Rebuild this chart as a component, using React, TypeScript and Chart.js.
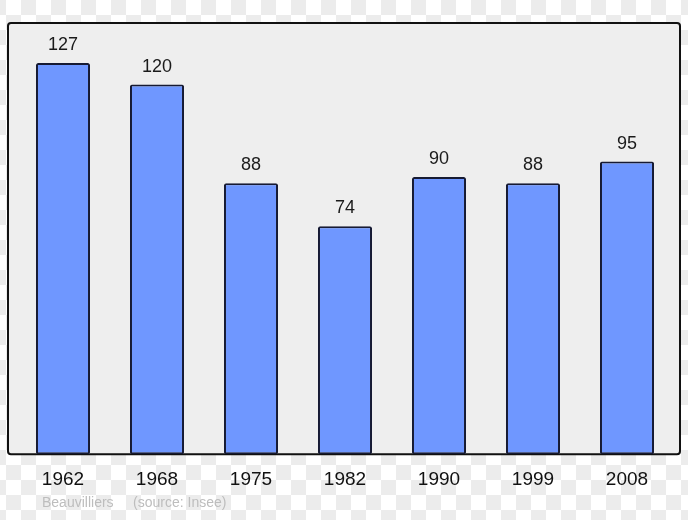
import React, { useEffect, useRef } from "react";
import { Chart, registerables } from "chart.js";

Chart.register(...registerables);

const years = ["1962", "1968", "1975", "1982", "1990", "1999", "2008"];
const population = [127, 120, 88, 74, 90, 88, 95];
const footerPlace = "Beauvilliers";
const footerSource = "(source: Insee)";

const FONT = "'Liberation Sans', Arial, sans-serif";

const boxPlugin = {
  id: "boxPlugin",
  beforeDraw(chart: any) {
    const { ctx, chartArea } = chart;
    const l = chartArea.left - 8;
    const r = chartArea.right + 6;
    const t = chartArea.top;
    const b = chartArea.bottom;
    ctx.save();
    ctx.beginPath();
    ctx.roundRect(l, t, r - l, b - t, 3);
    ctx.fillStyle = "#eeeeee";
    ctx.fill();
    ctx.lineWidth = 2;
    ctx.strokeStyle = "#111111";
    ctx.stroke();
    ctx.restore();
  },
};

const labelPlugin = {
  id: "labelPlugin",
  afterDatasetsDraw(chart: any) {
    const { ctx } = chart;
    const meta = chart.getDatasetMeta(0);
    const data = chart.data.datasets[0].data;
    ctx.save();
    ctx.font = `18px ${FONT}`;
    ctx.fillStyle = "#1a1a1a";
    ctx.textAlign = "center";
    ctx.textBaseline = "alphabetic";
    meta.data.forEach((el: any, i: number) => {
      ctx.fillText(String(data[i]), el.x, el.y - 13);
    });
    ctx.restore();
  },
};

export default function App() {
  const ref = useRef<HTMLCanvasElement>(null);
  useEffect(() => {
    if (!ref.current) return;
    const chart = new Chart(ref.current, {
      type: "bar",
      data: {
        labels: years,
        datasets: [
          {
            data: population,
            backgroundColor: "#6f97ff",
            borderColor: "#161a33",
            borderWidth: 2,
            borderRadius: 2,
            borderSkipped: false,
            categoryPercentage: 1,
            barPercentage: 0.575,
          },
        ],
      },
      options: {
        responsive: false,
        animation: false,
        events: [],
        layout: { padding: { left: 16, right: 14, top: 23, bottom: 15 } },
        plugins: { legend: { display: false }, tooltip: { enabled: false } },
        scales: {
          x: {
            grid: { display: false, drawTicks: false },
            border: { display: false },
            ticks: {
              color: "#111111",
              font: { family: FONT, size: 19 },
              padding: 14,
            },
          },
          y: {
            display: false,
            min: 0,
            max: 140,
          },
        },
      },
      plugins: [boxPlugin, labelPlugin],
    });
    return () => chart.destroy();
  }, []);

  return (
    <div
      style={{
        position: "fixed",
        left: 0,
        top: 0,
        width: 688,
        height: 520,
        overflow: "hidden",
        backgroundColor: "#ffffff",
        backgroundImage:
          "linear-gradient(45deg, #ececec 25%, transparent 25%, transparent 75%, #ececec 75%), linear-gradient(45deg, #ececec 25%, transparent 25%, transparent 75%, #ececec 75%)",
        backgroundSize: "30px 30px",
        backgroundPosition: "6px 0, 21px 15px",
      }}
    >
      <canvas ref={ref} width={688} height={520} style={{ display: "block" }} />
      <div
        style={{
          position: "absolute",
          left: 42,
          top: 494,
          fontFamily: FONT,
          fontSize: 14,
          color: "#bdbdbd",
          whiteSpace: "pre",
        }}
      >
        {footerPlace + "     " + footerSource}
      </div>
    </div>
  );
}
